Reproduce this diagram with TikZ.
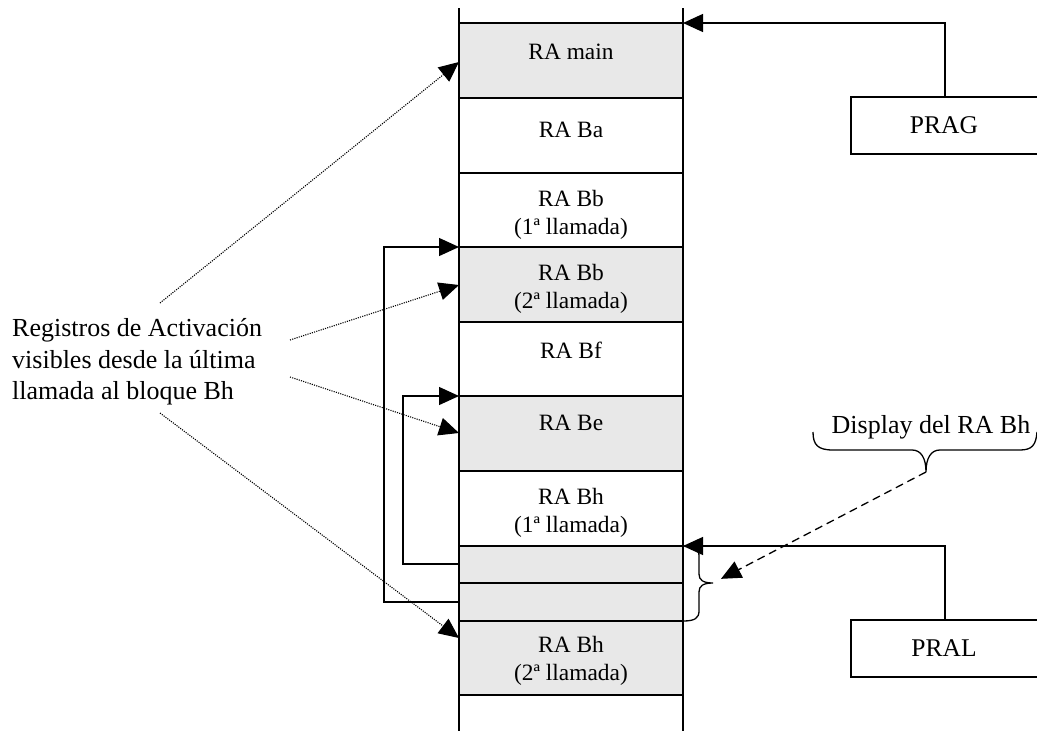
\documentclass[tikz,border=0pt]{standalone}
\usepackage{fontspec}
\setmainfont{Liberation Serif}
\usetikzlibrary{arrows.meta}
\definecolor{cellgray}{RGB}{232,232,232}
\begin{document}
\begin{tikzpicture}[x=1pt,y=-1pt,
  ln/.style={line width=1.3pt},
  tip/.style={-{Triangle[length=20pt,width=18pt]}},
  dotline/.style={line width=1.1pt, dash pattern=on 1.1pt off 1.2pt},
  dashline/.style={line width=1.3pt, dash pattern=on 8pt off 5pt},
  celltext/.style={align=center, inner sep=0pt, font=\fontsize{23.4}{28}\selectfont},
  bigtext/.style={inner sep=0pt, font=\fontsize{26}{31.5}\selectfont},
  regbox/.style={draw, line width=1.3pt, minimum width=192pt, minimum height=57pt, inner sep=0pt, font=\fontsize{25.5}{30}\selectfont}]
\useasboundingbox (0,0) rectangle (1037,731);
\clip (0,0) rectangle (1037,731);

% gray cells
\fill[cellgray] (459,23) rectangle (683,98);
\fill[cellgray] (459,247) rectangle (683,322);
\fill[cellgray] (459,396) rectangle (683,471);
\fill[cellgray] (459,546) rectangle (683,695);

% stack lines
\foreach \yy in {23,98,173,247,322,396,471,546,583,621,695}
  \draw[ln] (459,\yy) -- (683,\yy);
\draw[ln] (459,8) -- (459,731);
\draw[ln] (683,8) -- (683,731);

% cell texts
\node[celltext] (tmain) at (571,52) {RA main};
\node[celltext] (tba) at (571,130) {RA Ba};
\node[celltext] (tbb1) at (571,215) {RA Bb\\(1ª llamada)};
\node[celltext] (tbb2) at (571,289) {RA Bb\\(2ª llamada)};
\node[celltext] (tbf) at (571,350) {RA Bf};
\node[celltext] (tbe) at (571,423) {RA Be};
\node[celltext] (tbh1) at (571,513) {RA Bh\\(1ª llamada)};
\node[celltext] (tbh2) at (571,661) {RA Bh\\(2ª llamada)};

% anchor coordinates on the stack
\coordinate (topR) at (683,23);
\coordinate (g1R) at (683,546);
\coordinate (bb2W) at (459,247);
\coordinate (beW) at (459,396);
\coordinate (g1W) at (459,564);
\coordinate (g2W) at (459,602);
\coordinate (mainW) at (459,62);
\coordinate (bb2Wm) at (459,285);
\coordinate (beWm) at (459,433);
\coordinate (bh2W) at (459,638);

% registers PRAG / PRAL
\node[regbox] (prag) at (947,125.5) {\hspace*{-6pt}PRAG};
\node[regbox] (pral) at (947,648.5) {\hspace*{-6pt}PRAL};
\draw[ln,tip] ([xshift=-2pt]prag.north) |- (topR);
\draw[ln,tip] ([xshift=-2pt]pral.north) |- (g1R);

% static/dynamic links on the left
\draw[ln,tip] (g2W) -- ++(-75,0) |- (bb2W);
\draw[ln,tip] (g1W) -- ++(-56,0) |- (beW);

% left text and dotted arrows
\node[bigtext, anchor=west, align=left] (reg) at (12,362)
  {Registros de Activación\\visibles desde la última\\llamada al bloque Bh};
\coordinate (d1) at (160,303);
\coordinate (d2) at (290,340);
\coordinate (d3) at (290,377);
\coordinate (d4) at (160,413);
\draw[dotline,tip] (d1) -- (mainW);
\draw[dotline,tip] (d2) -- (bb2Wm);
\draw[dotline,tip] (d3) -- (beWm);
\draw[dotline,tip] (d4) -- (bh2W);

% brace on the display cells
\coordinate (bt) at (713,583);
\draw[ln] (683,546) .. controls (695,546) and (699,548) .. (699,556) -- (699,574)
  .. controls (699,580) and (703,583) .. (bt)
  .. controls (703,583) and (699,586) .. (699,592) -- (699,611)
  .. controls (699,618) and (695,621) .. (683,621);

% display label with brace
\node[bigtext] (disp) at (931,427) {Display del RA Bh};
\coordinate (dt) at (926,472);
\draw[ln] (813,432) .. controls (813,445) and (818,450) .. (833,450) -- (912,450)
  .. controls (921,450) and (926,458) .. (dt)
  .. controls (926,458) and (931,450) .. (940,450) -- (1020,450)
  .. controls (1032,450) and (1036,445) .. (1037,432);

\draw[dashline,tip,shorten >=9pt] (dt) -- (bt);
\end{tikzpicture}
\end{document}
